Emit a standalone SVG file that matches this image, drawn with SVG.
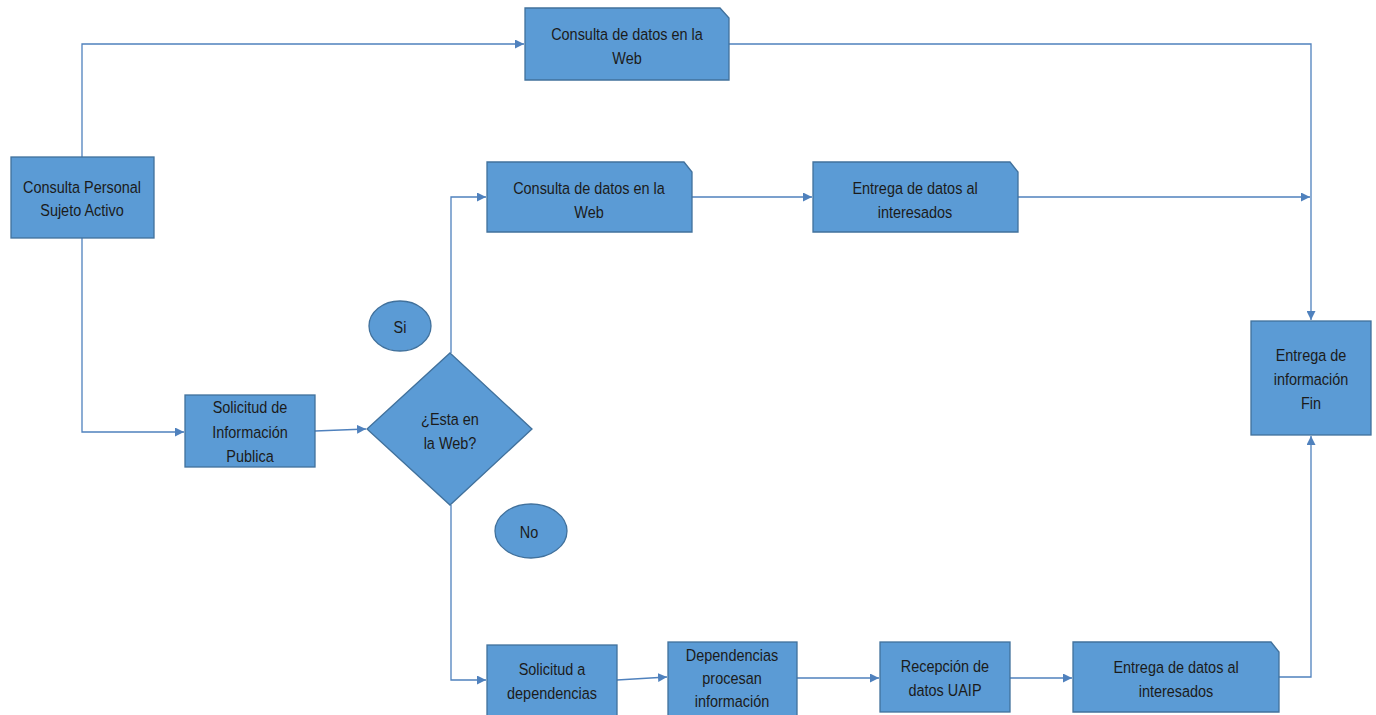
<svg xmlns="http://www.w3.org/2000/svg" width="1376" height="715" viewBox="0 0 1376 715">
<style>
.n{fill:#5b9bd5;stroke:#41719c;stroke-width:1.3}
.t{font-family:"Liberation Sans",Arial,sans-serif;font-size:17px;fill:#1b1b1b;text-anchor:middle}
.c{fill:none;stroke:#4f81bd;stroke-width:1.3}
</style>
<defs>
<marker id="a" viewBox="0 0 10 10" refX="10" refY="5" markerWidth="9" markerHeight="9" orient="auto" markerUnits="userSpaceOnUse">
<path d="M0,0 L10,5 L0,10 z" fill="#4f81bd"/>
</marker>
</defs>
<g id="connectors">
<path class="c" d="M82,157 V44 H524" marker-end="url(#a)"/>
<path class="c" d="M729,44 H1311 V320" marker-end="url(#a)"/>
<path class="c" d="M82,238 V432 H184" marker-end="url(#a)"/>
<path class="c" d="M315,431 L366,429" marker-end="url(#a)"/>
<path class="c" d="M451,353 V197 H486" marker-end="url(#a)"/>
<path class="c" d="M692,197 H812" marker-end="url(#a)"/>
<path class="c" d="M1018,197 H1310" marker-end="url(#a)"/>
<path class="c" d="M451,505 V680 H486" marker-end="url(#a)"/>
<path class="c" d="M617,680 L667,677" marker-end="url(#a)"/>
<path class="c" d="M797,678 L879,678" marker-end="url(#a)"/>
<path class="c" d="M1010,678 L1072,678" marker-end="url(#a)"/>
<path class="c" d="M1279,677 H1311 V436" marker-end="url(#a)"/>
</g>
<g id="top-consulta">
<path class="n" d="M525,8 H720 L729,18 V80 H525 Z"/>
<text class="t" transform="translate(627,40) scale(0.85,1)">Consulta de datos en la</text>
<text class="t" transform="translate(627,64) scale(0.85,1)">Web</text>
</g>
<g id="consulta-personal">
<rect class="n" x="11" y="157" width="143" height="81"/>
<text class="t" transform="translate(82,193) scale(0.85,1)">Consulta Personal</text>
<text class="t" transform="translate(82,216) scale(0.85,1)">Sujeto Activo</text>
</g>
<g id="solicitud-info">
<rect class="n" x="185" y="395" width="130" height="72"/>
<text class="t" transform="translate(250,413) scale(0.85,1)">Solicitud  de</text>
<text class="t" transform="translate(250,438) scale(0.85,1)">Información</text>
<text class="t" transform="translate(250,462) scale(0.85,1)">Publica</text>
</g>
<g id="decision">
<path class="n" d="M450,353 L532,429 L450,505 L367,429 Z"/>
<text class="t" transform="translate(450,425) scale(0.85,1)">¿Esta en</text>
<text class="t" transform="translate(450,449) scale(0.85,1)">la Web?</text>
</g>
<g id="si">
<ellipse class="n" cx="400" cy="326" rx="31" ry="25"/>
<text class="t" transform="translate(400,333) scale(0.85,1)">Si</text>
</g>
<g id="no">
<ellipse class="n" cx="531" cy="531" rx="36" ry="27"/>
<text class="t" transform="translate(529,538) scale(0.85,1)">No</text>
</g>
<g id="mid-consulta">
<path class="n" d="M487,162 H684 L692,172 V232 H487 Z"/>
<text class="t" transform="translate(589,194) scale(0.85,1)">Consulta de datos en la</text>
<text class="t" transform="translate(589,218) scale(0.85,1)">Web</text>
</g>
<g id="mid-entrega">
<path class="n" d="M813,162 H1010 L1018,172 V232 H813 Z"/>
<text class="t" transform="translate(915,194) scale(0.85,1)">Entrega de datos al</text>
<text class="t" transform="translate(915,218) scale(0.85,1)">interesados</text>
</g>
<g id="fin">
<rect class="n" x="1251" y="321" width="120" height="114"/>
<text class="t" transform="translate(1311,361) scale(0.85,1)">Entrega de</text>
<text class="t" transform="translate(1311,385) scale(0.85,1)">información</text>
<text class="t" transform="translate(1311,409) scale(0.85,1)">Fin</text>
</g>
<g id="solicitud-dep">
<rect class="n" x="487" y="645" width="130" height="72"/>
<text class="t" transform="translate(552,675) scale(0.85,1)">Solicitud a</text>
<text class="t" transform="translate(552,699) scale(0.85,1)">dependencias</text>
</g>
<g id="dependencias">
<rect class="n" x="668" y="642" width="129" height="74"/>
<text class="t" transform="translate(732,661) scale(0.85,1)">Dependencias</text>
<text class="t" transform="translate(732,684) scale(0.85,1)">procesan</text>
<text class="t" transform="translate(732,707) scale(0.85,1)">información</text>
</g>
<g id="recepcion">
<rect class="n" x="880" y="642" width="130" height="70"/>
<text class="t" transform="translate(945,672) scale(0.85,1)">Recepción de</text>
<text class="t" transform="translate(945,696) scale(0.85,1)">datos UAIP</text>
</g>
<g id="bottom-entrega">
<path class="n" d="M1073,642 H1271 L1279,652 V712 H1073 Z"/>
<text class="t" transform="translate(1176,673) scale(0.85,1)">Entrega de datos al</text>
<text class="t" transform="translate(1176,697) scale(0.85,1)">interesados</text>
</g>
</svg>
